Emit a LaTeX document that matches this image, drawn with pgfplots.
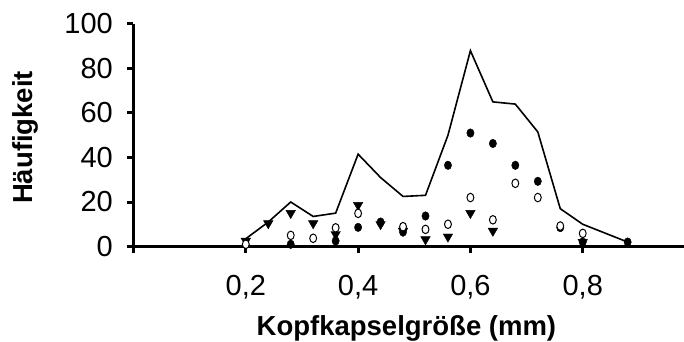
\documentclass[border=0pt]{standalone}
\usepackage{fontspec}
\setmainfont{Liberation Sans}
\usepackage{pgfplots}
\pgfplotsset{compat=1.18}
\usepackage{pgfplotstable}

\pgfplotstableread{
x y
0.20 3.5
0.24 11
0.28 20
0.32 13.5
0.36 15
0.40 41.5
0.44 31
0.48 22.5
0.52 23
0.56 50
0.60 88
0.64 65
0.68 64
0.72 51.5
0.76 17
0.80 10
0.84 6
0.88 2
}\total

\pgfplotstableread{
x y
0.20 2.5
0.24 10.4
0.28 15
0.32 10.4
0.36 5.5
0.40 18.6
0.44 10
0.48 7
0.52 3.2
0.56 4.4
0.60 15
0.64 7
0.80 2
}\tri

\pgfplotstableread{
x y
0.28 1
0.36 2.5
0.40 8.6
0.44 11
0.48 6.5
0.52 13.7
0.56 36.5
0.60 51
0.64 46.3
0.68 36.5
0.72 29.3
0.76 8.5
0.80 2
0.88 2
}\filled

\pgfplotstableread{
x y
0.20 1
0.28 5
0.32 3.7
0.36 8.4
0.40 14.9
0.48 8.9
0.52 7.7
0.56 10
0.60 22
0.64 12
0.68 28.4
0.72 22
0.76 9.2
0.80 5.9
}\open

\begin{document}
\begin{tikzpicture}
\path[use as bounding box] (-133.5bp,-95.5bp) rectangle (550.5bp,246.5bp);
\begin{axis}[
  scale only axis,
  width=550.3bp, height=222.5bp,
  xmin=0, xmax=0.98, ymin=0, ymax=100,
  enlargelimits=false,
  axis lines*=left,
  axis line style={line width=3.5bp, black},
  xtick pos=bottom, ytick pos=left,
  tick align=outside,
  major tick length=6bp,
  tick style={line width=3bp, black},
  xtick={0,0.2,0.4,0.6,0.8},
  xticklabels={,{0,2},{0,4},{0,6},{0,8}},
  ytick={0,20,40,60,80,100},
  /pgf/number format/assume math mode=true,
  tick label style={font=\fontsize{29bp}{34bp}\selectfont},
  xticklabel style={anchor=base, yshift=-42.5bp},
  yticklabel style={anchor=east, inner sep=0pt, xshift=-14.5bp},
  xlabel={Kopfkapselgröße (mm)},
  ylabel={Häufigkeit},
  label style={font=\bfseries\fontsize{27.5bp}{32bp}\selectfont},
  xlabel style={at={(axis description cs:0.496,0)}, anchor=base, yshift=-88.5bp},
  ylabel style={at={([xshift=-100.5bp]axis description cs:0,0.49)}, anchor=base},
  clip=false,
]
\addplot[black, line width=1.6bp, mark=none] table[x=x,y=y] {\total};
\addplot[only marks, mark=*, mark size=4.3bp, mark options={black, fill=black, xscale=0.85}] table[x=x,y=y] {\filled};
\addplot[only marks, mark=triangle*, mark size=5.5bp, mark options={black, fill=black, rotate=180}] table[x=x,y=y] {\tri};
\addplot[only marks, mark=*, mark size=4.3bp, mark options={draw=black, fill=white, line width=1bp, xscale=0.8}] table[x=x,y=y] {\open};
\end{axis}
\end{tikzpicture}
\end{document}
